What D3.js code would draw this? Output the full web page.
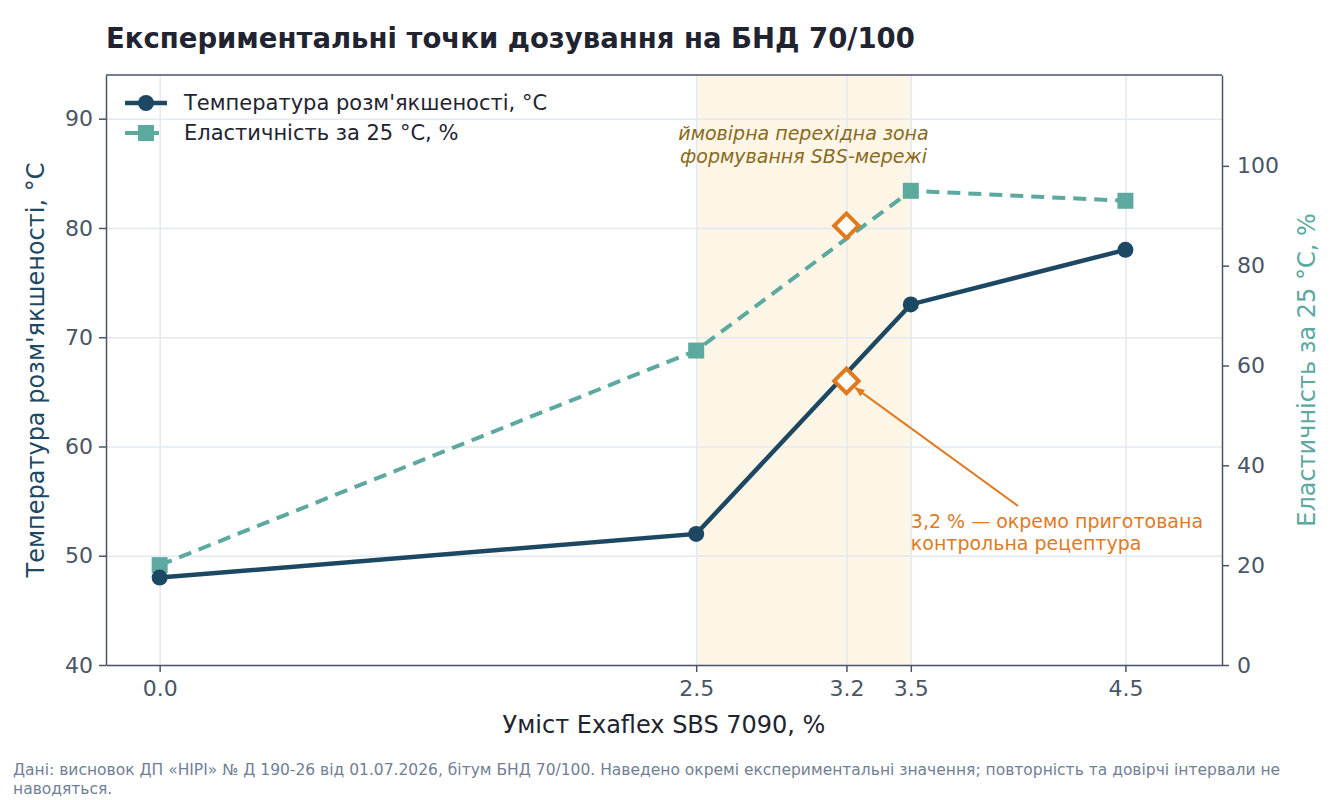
<!DOCTYPE html>
<meta charset="utf-8">
<style>
  body { margin: 0; background: #fff; }
  svg { display: block; font-family: "DejaVu Sans", sans-serif; }
  .grid line { stroke: #e4e8ef; stroke-width: 1.5px; }
  .grid path { display: none; }
  .axis path, .axis line { stroke: #4a5568; stroke-width: 1.5px; }
  .axis text { fill: #4a5568; font-size: 22px; font-family: "DejaVu Sans", sans-serif; }
</style>
<body>
<script src="https://cdn.jsdelivr.net/npm/d3@7"></script>
<script>

// data
var dose = [0.0, 2.5, 3.5, 4.5];
var softening = [48, 52, 73, 78];
var elasticity = [20, 63, 95, 93];
var controlDose = 3.2;
var controlSoftening = 66;
var controlElasticity = 88;
var xTicks = [0.0, 2.5, 3.2, 3.5, 4.5];
var leftTicks = [40, 50, 60, 70, 80, 90];
var rightTicks = [0, 20, 40, 60, 80, 100];

var W = 1344, H = 800;
var margin = {top: 75, right: 122, bottom: 135, left: 106};
var width = W - margin.left - margin.right;
var height = H - margin.top - margin.bottom;

var x = d3.scaleLinear().domain([-0.25, 4.95]).range([0, width]);
var yL = d3.scaleLinear().domain([40, 94]).range([height, 0]);
var yR = d3.scaleLinear().domain([0, 118.2]).range([height, 0]);

var cTemp = "#1d4863", cEl = "#5ca9a0", cOr = "#e07a1f";

var svg = d3.select("body").append("svg")
    .attr("width", W).attr("height", H);

svg.append("defs").append("marker")
    .attr("id", "arr").attr("viewBox", "0 0 10 10")
    .attr("refX", 9).attr("refY", 5)
    .attr("markerWidth", 5).attr("markerHeight", 5)
    .attr("orient", "auto")
  .append("path").attr("d", "M0,1 L10,5 L0,9 z").attr("fill", cOr);

var g = svg.append("g")
    .attr("transform", "translate(" + margin.left + "," + margin.top + ")");

// transition band
g.append("rect")
    .attr("x", x(2.5)).attr("y", 0)
    .attr("width", x(3.5) - x(2.5)).attr("height", height)
    .attr("fill", "#fdf5e6");

// grid
g.append("g").attr("class", "grid")
    .call(d3.axisLeft(yL).tickValues(leftTicks).tickSize(-width).tickFormat(""));
g.append("g").attr("class", "grid")
    .attr("transform", "translate(0," + height + ")")
    .call(d3.axisBottom(x).tickValues(xTicks).tickSize(-height).tickFormat(""));

g.append("text")
    .attr("text-anchor", "middle")
    .attr("fill", "#8a6a1c").attr("font-size", 19).attr("font-style", "italic")
    .selectAll("tspan")
    .data(["ймовірна перехідна зона", "формування SBS-мережі"])
    .join("tspan")
    .attr("x", x(3.0)).attr("y", function(d, i) { return 65 + i * 23; })
    .text(function(d) { return d; });

// lines
var tempData = dose.map(function(d, i) { return [d, softening[i]]; });
var elData = dose.map(function(d, i) { return [d, elasticity[i]]; });

g.append("path").datum(elData)
    .attr("fill", "none").attr("stroke", cEl).attr("stroke-width", 4)
    .attr("stroke-dasharray", "13,8")
    .attr("d", d3.line().x(function(d) { return x(d[0]); }).y(function(d) { return yR(d[1]); }));

g.append("path").datum(tempData)
    .attr("fill", "none").attr("stroke", cTemp).attr("stroke-width", 4.5)
    .attr("d", d3.line().x(function(d) { return x(d[0]); }).y(function(d) { return yL(d[1]); }));

g.selectAll(".sq").data(elData).join("rect")
    .attr("x", function(d) { return x(d[0]) - 8; })
    .attr("y", function(d) { return yR(d[1]) - 8; })
    .attr("width", 16).attr("height", 16)
    .attr("fill", cEl);

g.selectAll(".dot").data(tempData).join("circle")
    .attr("cx", function(d) { return x(d[0]); })
    .attr("cy", function(d) { return yL(d[1]); })
    .attr("r", 8).attr("fill", cTemp);

// control points
var diamond = d3.symbol().type(d3.symbolSquare).size(300);
[[controlDose, yL(controlSoftening)], [controlDose, yR(controlElasticity)]].forEach(function(p) {
  g.append("path")
      .attr("d", diamond())
      .attr("transform", "translate(" + x(p[0]) + "," + p[1] + ") rotate(45)")
      .attr("fill", "#fff").attr("stroke", cOr).attr("stroke-width", 4);
});

// annotation
var ax = x(3.5), ay = yL(controlSoftening);
g.append("line")
    .attr("x1", 912).attr("y1", 431)
    .attr("x2", x(controlDose) + 9).attr("y2", ay + 7)
    .attr("stroke", cOr).attr("stroke-width", 2)
    .attr("marker-end", "url(#arr)");
g.append("text")
    .attr("fill", cOr).attr("font-size", 19)
    .selectAll("tspan")
    .data(["3,2 % — окремо приготована", "контрольна рецептура"])
    .join("tspan")
    .attr("x", ax).attr("y", function(d, i) { return 453 + i * 22; })
    .text(function(d) { return d; });

// axes
g.append("g").attr("class", "axis")
    .call(d3.axisLeft(yL).tickValues(leftTicks).tickSize(7).tickSizeOuter(0).tickPadding(6));
g.append("g").attr("class", "axis")
    .attr("transform", "translate(" + width + ",0)")
    .call(d3.axisRight(yR).tickValues(rightTicks).tickSize(7).tickSizeOuter(0).tickPadding(8));
g.append("g").attr("class", "axis")
    .attr("transform", "translate(0," + height + ")")
    .call(d3.axisBottom(x).tickValues(xTicks).tickSize(7).tickSizeOuter(0).tickPadding(8).tickFormat(d3.format(".1f")));
g.append("line")
    .attr("x1", 0).attr("x2", width).attr("y1", 0).attr("y2", 0)
    .attr("stroke", "#4a5568").attr("stroke-width", 1.5);

// axis titles
g.append("text")
    .attr("transform", "translate(-62," + height / 2 + ") rotate(-90)")
    .attr("text-anchor", "middle").attr("font-size", 24).attr("fill", cTemp)
    .text("Температура розм'якшеності, °C");
g.append("text")
    .attr("transform", "translate(" + (width + 93) + "," + height / 2 + ") rotate(-90)")
    .attr("text-anchor", "middle").attr("font-size", 24).attr("fill", cEl)
    .text("Еластичність за 25 °C, %");
g.append("text")
    .attr("x", width / 2).attr("y", height + 68)
    .attr("text-anchor", "middle").attr("font-size", 24).attr("fill", "#1f2430")
    .text("Уміст Exaflex SBS 7090, %");

// title
svg.append("text")
    .attr("x", 106).attr("y", 48)
    .attr("font-size", 27.5).attr("font-weight", "bold").attr("fill", "#1f2430")
    .text("Експериментальні точки дозування на БНД 70/100");

// legend
var legend = g.append("g").attr("transform", "translate(19,28)");
legend.append("line").attr("x1", 0).attr("x2", 42).attr("y1", 0).attr("y2", 0)
    .attr("stroke", cTemp).attr("stroke-width", 4.5);
legend.append("circle").attr("cx", 21).attr("cy", 0).attr("r", 8).attr("fill", cTemp);
legend.append("text").attr("x", 59).attr("y", 7).attr("font-size", 21).attr("fill", "#1f2430")
    .text("Температура розм'якшеності, °C");
legend.append("line").attr("x1", 0).attr("x2", 42).attr("y1", 30).attr("y2", 30)
    .attr("stroke", cEl).attr("stroke-width", 4).attr("stroke-dasharray", "13,8");
legend.append("rect").attr("x", 13).attr("y", 22).attr("width", 16).attr("height", 16).attr("fill", cEl);
legend.append("text").attr("x", 59).attr("y", 37).attr("font-size", 21).attr("fill", "#1f2430")
    .text("Еластичність за 25 °C, %");

// footnote
svg.append("text")
    .attr("font-size", 15.5).attr("fill", "#718096")
    .selectAll("tspan")
    .data(["Дані: висновок ДП «НІРІ» № Д 190-26 від 01.07.2026, бітум БНД 70/100. Наведено окремі експериментальні значення; повторність та довірчі інтервали не",
           "наводяться."])
    .join("tspan")
    .attr("x", 13).attr("y", function(d, i) { return 775 + i * 19; })
    .text(function(d) { return d; });

</script>
</body>
